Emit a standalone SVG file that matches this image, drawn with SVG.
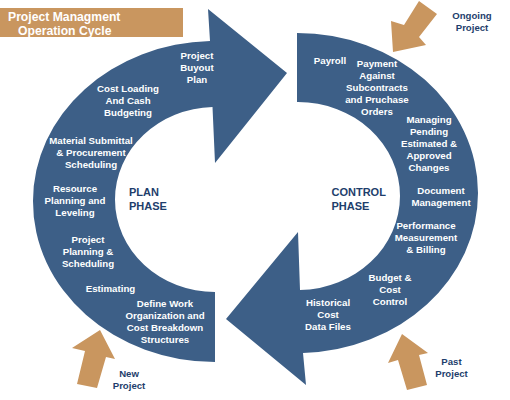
<svg xmlns="http://www.w3.org/2000/svg" width="510" height="400" viewBox="0 0 510 400">
<style>
.band{fill:#3D5F87}
.feed{fill:#C9965F}
.lbl{font-family:"Liberation Sans",Arial,sans-serif;font-size:9.7px;font-weight:bold;fill:#FFFFFF;text-anchor:middle}
.nav{font-family:"Liberation Sans",Arial,sans-serif;font-size:9.6px;font-weight:bold;fill:#1E3E6C;text-anchor:middle}
.phase{font-family:"Liberation Sans",Arial,sans-serif;font-size:11px;font-weight:bold;fill:#1E3E6C}
.title{font-family:"Liberation Sans",Arial,sans-serif;font-size:12.2px;font-weight:bold;fill:#FFFFFF}
</style>
<rect width="510" height="400" fill="#FFFFFF"/>
<g id="title">
<rect x="0" y="8" width="183" height="29" class="feed"/>
<text class="title" x="8" y="20.5">Project Managment</text>
<text class="title" x="18" y="34.5">Operation Cycle</text>
</g>
<g id="plan-phase">
<path class="band" d="M215 292 L215 362 A182 160 0 0 1 33 201 A182 160 0 0 1 210 41 L208 9 L287 73 L215 163 L212.5 107 A100 92.5 0 0 0 115 199.5 A100 92.5 0 0 0 215 292 Z"/>
<text class="lbl" x="197" y="59">Project</text>
<text class="lbl" x="197" y="71">Buyout</text>
<text class="lbl" x="197" y="83">Plan</text>
<text class="lbl" x="128" y="92">Cost Loading</text>
<text class="lbl" x="128" y="104">And Cash</text>
<text class="lbl" x="128" y="116">Budgeting</text>
<text class="lbl" x="91" y="144">Material Submittal</text>
<text class="lbl" x="91" y="156">&amp; Procurement</text>
<text class="lbl" x="91" y="168">Scheduling</text>
<text class="lbl" x="75" y="192">Resource</text>
<text class="lbl" x="75" y="204">Planning and</text>
<text class="lbl" x="75" y="216">Leveling</text>
<text class="lbl" x="88" y="243">Project</text>
<text class="lbl" x="88" y="255">Planning &amp;</text>
<text class="lbl" x="88" y="267">Scheduling</text>
<text class="lbl" x="110.5" y="292">Estimating</text>
<text class="lbl" x="165" y="307">Define Work</text>
<text class="lbl" x="165" y="319">Organization and</text>
<text class="lbl" x="165" y="331">Cost Breakdown</text>
<text class="lbl" x="165" y="343">Structures</text>
<text class="phase" x="129" y="196">PLAN</text>
<text class="phase" x="129" y="210">PHASE</text>
</g>
<g id="control-phase">
<path class="band" d="M297 33 A181 160 0 0 1 478 193 A181 160 0 0 1 303 352.9 L306 385 L226 319 L298 232 L300 290 A102 94 0 0 0 400 196 A102 94 0 0 0 298 102 L297 102 Z"/>
<text class="lbl" x="330" y="64">Payroll</text>
<text class="lbl" x="377" y="66.5">Payment</text>
<text class="lbl" x="377" y="78.5">Against</text>
<text class="lbl" x="377" y="90.5">Subcontracts</text>
<text class="lbl" x="377" y="102.5">and Pruchase</text>
<text class="lbl" x="377" y="114.5">Orders</text>
<text class="lbl" x="429" y="123">Managing</text>
<text class="lbl" x="429" y="135">Pending</text>
<text class="lbl" x="429" y="147">Estimated &amp;</text>
<text class="lbl" x="429" y="159">Approved</text>
<text class="lbl" x="429" y="171">Changes</text>
<text class="lbl" x="441" y="194">Document</text>
<text class="lbl" x="441" y="206">Management</text>
<text class="lbl" x="426" y="229">Performance</text>
<text class="lbl" x="426" y="241">Measurement</text>
<text class="lbl" x="426" y="253">&amp; Billing</text>
<text class="lbl" x="390" y="281">Budget &amp;</text>
<text class="lbl" x="390" y="293">Cost</text>
<text class="lbl" x="390" y="305">Control</text>
<text class="lbl" x="328" y="306">Historical</text>
<text class="lbl" x="328" y="318">Cost</text>
<text class="lbl" x="328" y="330">Data Files</text>
<text class="phase" x="331.5" y="196">CONTROL</text>
<text class="phase" x="331.5" y="210">PHASE</text>
</g>
<g id="ongoing-project">
<polygon class="feed" points="393,52 391,21 404,25 419,1 437,14 419,37 426,45"/>
<text class="nav" x="472" y="19">Ongoing</text>
<text class="nav" x="472" y="30.5">Project</text>
</g>
<g id="new-project">
<polygon class="feed" points="100,330 72,348 85,351 77,384 97,388 106,357 115,359"/>
<text class="nav" x="129" y="377">New</text>
<text class="nav" x="129" y="388.5">Project</text>
</g>
<g id="past-project">
<polygon class="feed" points="402,334 388,363 398,360 407,390 427,385 419,355 428,353"/>
<text class="nav" x="451.5" y="365">Past</text>
<text class="nav" x="451.5" y="377">Project</text>
</g>
<g id="connectors"></g>
</svg>
